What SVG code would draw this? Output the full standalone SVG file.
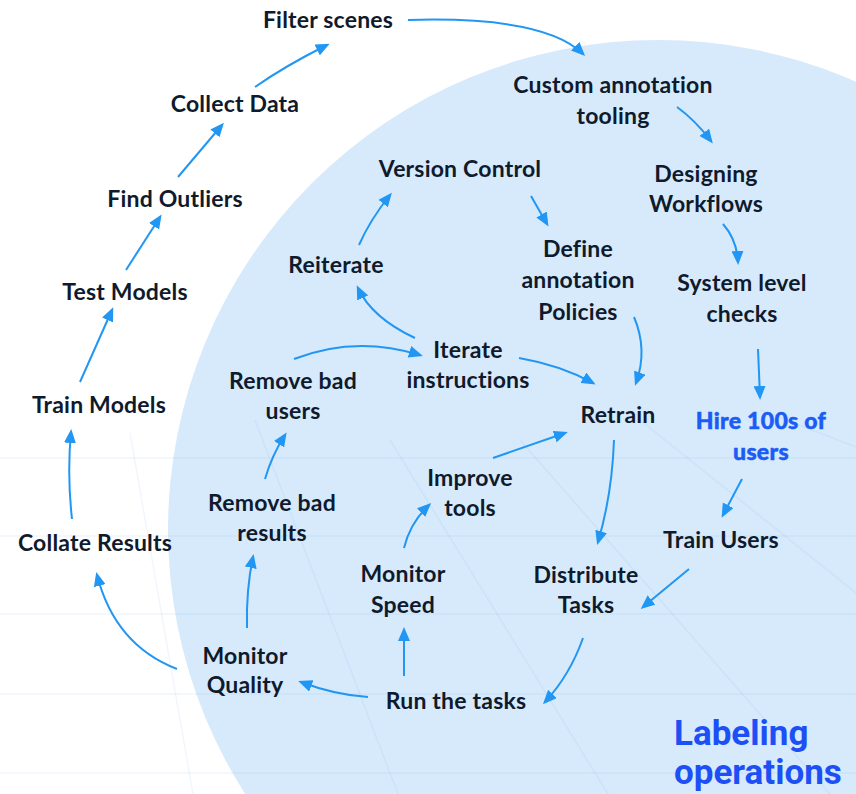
<svg xmlns="http://www.w3.org/2000/svg" width="856" height="794" viewBox="0 0 856 794">
<defs>
<marker id="ah" markerUnits="userSpaceOnUse" markerWidth="14" markerHeight="12" refX="11" refY="6" orient="auto">
<path d="M0,0 L14,6 L0,12 z" fill="#2196f3"/>
</marker>
<style>
.t{font-family:Lato,"Noto Sans",sans-serif;font-weight:700;font-size:23px;letter-spacing:0.2px;fill:#0f1a2c;text-anchor:middle}
.h{font-family:Lato,"Noto Sans",sans-serif;font-weight:900;font-size:23px;letter-spacing:0.3px;fill:#1a5cf5;text-anchor:middle;stroke:#1a5cf5;stroke-width:0.5}
.big{font-family:Roboto,"Liberation Sans",sans-serif;font-weight:700;font-size:35px;fill:#1c4ff6}
.c path{fill:none;stroke:#2196f3;stroke-width:2;marker-end:url(#ah)}
.g line{stroke:#4a8fd8;stroke-opacity:0.08;stroke-width:1.5}
</style>
</defs>
<rect width="856" height="794" fill="#ffffff"/>
<circle cx="658" cy="530" r="490" fill="#d6eafc"/>
<g class="g">
<line x1="0" y1="458" x2="856" y2="458"/>
<line x1="0" y1="536" x2="856" y2="536"/>
<line x1="0" y1="614" x2="856" y2="614"/>
<line x1="0" y1="694" x2="856" y2="694"/>
<line x1="0" y1="773" x2="856" y2="773"/>
<line x1="130" y1="433" x2="193" y2="794"/>
<line x1="255" y1="420" x2="398" y2="794"/>
<line x1="390" y1="440" x2="608" y2="794"/>
<line x1="520" y1="440" x2="830" y2="794"/>
<line x1="640" y1="420" x2="856" y2="593"/>
<line x1="760" y1="410" x2="856" y2="447"/>
</g>
<g id="connectors" class="c">
<path d="M408,20 Q545,16 583,54"/>
<path d="M255,87 Q285,66 327,45"/>
<path d="M178,177 L222,125"/>
<path d="M126,270 L160,217"/>
<path d="M80,382 L112,310"/>
<path d="M72,519 Q67,475 71,432"/>
<path d="M177,669 Q115,645 97,575"/>
<path d="M368,697 Q335,695 301,682"/>
<path d="M247,628 Q246,590 253,557"/>
<path d="M265,479 Q272,455 285,435"/>
<path d="M294,359 Q355,335 420,355"/>
<path d="M415,338 Q372,318 358,288"/>
<path d="M359,245 Q370,220 390,195"/>
<path d="M531,196 L547,224"/>
<path d="M677,107 Q695,120 711,141"/>
<path d="M723,224 Q737,240 738,262"/>
<path d="M634,317 Q648,350 636,383"/>
<path d="M519,358 Q560,365 593,383"/>
<path d="M758,349 L760,397"/>
<path d="M742,479 L723,515"/>
<path d="M614,440 Q612,495 598,542"/>
<path d="M493,458 L565,433"/>
<path d="M404,548 Q410,523 429,505"/>
<path d="M404,676 L404,630"/>
<path d="M689,569 L643,607"/>
<path d="M583,638 Q570,675 545,702"/>
</g>
<g id="filter-scenes"><text class="t" x="328" y="28">Filter scenes</text></g>
<g id="collect-data"><text class="t" x="235" y="112">Collect Data</text></g>
<g id="find-outliers"><text class="t" x="175" y="207">Find Outliers</text></g>
<g id="test-models"><text class="t" x="125" y="300">Test Models</text></g>
<g id="train-models"><text class="t" x="99" y="413">Train Models</text></g>
<g id="collate-results"><text class="t" x="95" y="551">Collate Results</text></g>
<g id="custom-annotation"><text class="t" x="613" y="93">Custom annotation</text><text class="t" x="613" y="124">tooling</text></g>
<g id="version-control"><text class="t" x="460" y="177">Version Control</text></g>
<g id="designing-workflows"><text class="t" x="706" y="182">Designing</text><text class="t" x="706" y="212">Workflows</text></g>
<g id="define-policies"><text class="t" x="578" y="257">Define</text><text class="t" x="578" y="288">annotation</text><text class="t" x="578" y="320">Policies</text></g>
<g id="system-checks"><text class="t" x="742" y="291">System level</text><text class="t" x="742" y="322">checks</text></g>
<g id="reiterate"><text class="t" x="336" y="273">Reiterate</text></g>
<g id="iterate-instructions"><text class="t" x="468" y="358">Iterate</text><text class="t" x="468" y="388">instructions</text></g>
<g id="remove-bad-users"><text class="t" x="293" y="389">Remove bad</text><text class="t" x="293" y="419">users</text></g>
<g id="retrain"><text class="t" x="618" y="423">Retrain</text></g>
<g id="hire-users"><text class="h" x="761" y="429">Hire 100s of</text><text class="h" x="761" y="460">users</text></g>
<g id="improve-tools"><text class="t" x="470" y="486">Improve</text><text class="t" x="470" y="516">tools</text></g>
<g id="remove-bad-results"><text class="t" x="272" y="511">Remove bad</text><text class="t" x="272" y="541">results</text></g>
<g id="train-users"><text class="t" x="721" y="548">Train Users</text></g>
<g id="monitor-speed"><text class="t" x="403" y="582">Monitor</text><text class="t" x="403" y="613">Speed</text></g>
<g id="distribute-tasks"><text class="t" x="586" y="583">Distribute</text><text class="t" x="586" y="613">Tasks</text></g>
<g id="monitor-quality"><text class="t" x="245" y="664">Monitor</text><text class="t" x="245" y="693">Quality</text></g>
<g id="run-tasks"><text class="t" x="456" y="709">Run the tasks</text></g>
<g id="labeling-operations"><text class="big" x="674" y="745">Labeling</text><text class="big" x="674" y="784">operations</text></g>
</svg>
